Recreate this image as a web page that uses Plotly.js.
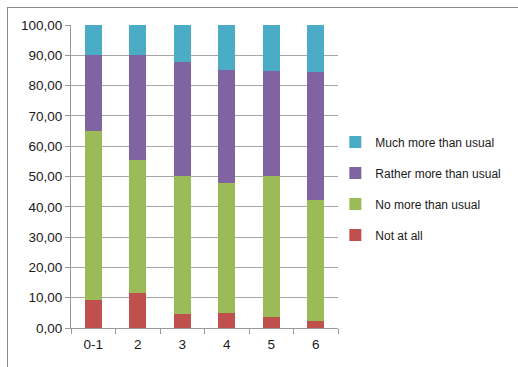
<!DOCTYPE html>
<html><head><meta charset="utf-8">
<script src="https://cdn.plot.ly/plotly-3.0.1.min.js"></script>
<style>
html,body{margin:0;padding:0;background:#fff;}
#frame{position:absolute;left:7px;top:7px;width:520px;height:370px;border-left:1.5px solid #8a8a8a;border-top:1.5px solid #8a8a8a;pointer-events:none;z-index:5;}
#chart{position:absolute;left:0;top:0;width:518px;height:367px;}
</style>
</head><body>
<div id="chart"></div>
<div id="frame"></div>
<script>
const categories = ["0-1","2","3","4","5","6"];
const notAtAll = [9.3, 11.5, 4.7, 4.9, 3.7, 2.4];
const noMore = [55.7, 44.0, 45.6, 43.0, 46.4, 40.0];
const ratherMore = [25.0, 34.5, 37.6, 37.4, 34.6, 42.0];
const muchMore = [10.0, 10.0, 12.1, 14.7, 15.3, 15.6];
const seriesNames = ["Not at all","No more than usual","Rather more than usual","Much more than usual"];
const colors = ["#C0504D","#9BBB59","#8064A2","#4BACC6"];
const seriesData = [notAtAll, noMore, ratherMore, muchMore];

const traces = seriesData.map((d,i)=>({
  type:'bar', x:categories, y:d, name:seriesNames[i],
  legendgroup:'g'+i, legendrank: 1000 - i,
  marker:{color:colors[i], line:{width:0}},
  hoverinfo:'skip'
}));

const layout = {
  width:518, height:367,
  margin:{l:71, r:176, t:25, b:39},
  barmode:'stack', bargap:0.61,
  paper_bgcolor:'#fff', plot_bgcolor:'#fff',
  font:{family:'"Liberation Sans", Arial, sans-serif', color:'#1a1a1a'},
  xaxis:{type:'category', showgrid:false, showline:true, linecolor:'#999', linewidth:1,
    ticks:'outside', tickson:'boundaries', ticklen:5, tickcolor:'#999',
    tickfont:{size:13.5}, ticklabelstandoff:4},
  yaxis:{range:[0,100], dtick:10, tickformat:'.2f',
    showgrid:true, gridcolor:'#A6A6A6', gridwidth:1,
    showline:true, linecolor:'#999', linewidth:1, ticks:'outside', ticklen:5, tickcolor:'#999',
    tickfont:{size:13.5}, zeroline:false},
  separators:',.',
  showlegend:true,
  legend:{x:0.99, xanchor:'left', y:0.46, yanchor:'middle', traceorder:'grouped',
    tracegroupgap:12, font:{size:12, color:'#1a1a1a'}, bgcolor:'rgba(0,0,0,0)'}
};
Plotly.newPlot('chart', traces, layout, {staticPlot:true, displayModeBar:false});
</script>
</body></html>
